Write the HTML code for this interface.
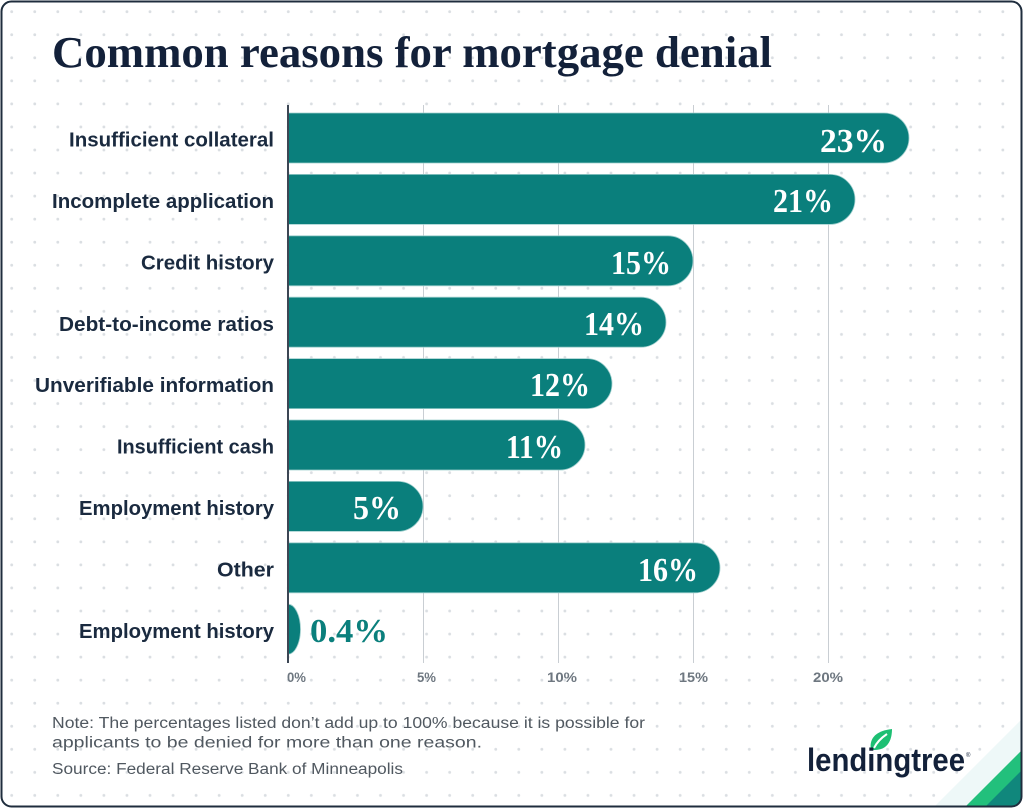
<!DOCTYPE html>
<html><head><meta charset="utf-8"><style>
html,body{margin:0;padding:0;background:#fff;}
svg{display:block;}
</style></head><body>
<svg width="1024" height="809" viewBox="0 0 1024 809" xmlns="http://www.w3.org/2000/svg">
<defs>
<pattern id="dots" x="0.2" y="0.2" width="23.05" height="23.05" patternUnits="userSpaceOnUse">
<circle cx="11.5" cy="11.5" r="1.4" fill="#dadee2"/>
</pattern>
<clipPath id="card"><rect x="1.5" y="1.5" width="1020" height="805" rx="10" ry="10"/></clipPath>
</defs>
<rect width="1024" height="809" fill="#fff"/>
<g clip-path="url(#card)">
<rect width="1024" height="809" fill="url(#dots)"/>
<polygon points="1024,717 1024,809 932,809" fill="#eef8f8"/>
<polygon points="1024,748 1024,809 963,809" fill="#22c07c"/>
<polygon points="1024,768 1024,809 983,809" fill="#10877c"/>
</g>
<rect x="1.5" y="1.5" width="1020" height="805" rx="10" ry="10" fill="none" stroke="#1f2d3d" stroke-width="2"/>

<text x="52" y="67" font-family="Liberation Serif, serif" font-weight="700" font-size="44" fill="#13213a" textLength="720" lengthAdjust="spacingAndGlyphs">Common reasons for mortgage denial</text>

<g stroke="#c9ced3" stroke-width="1">
<line x1="423.5" y1="105" x2="423.5" y2="663"/>
<line x1="558.5" y1="105" x2="558.5" y2="663"/>
<line x1="693.5" y1="105" x2="693.5" y2="663"/>
<line x1="828.5" y1="105" x2="828.5" y2="663"/>
</g>

<g fill="#0a7f7c" stroke="#9fcfcd" stroke-width="0.8">
<path d="M288,113 H884 A25,25 0 0 1 884,163 H288 Z"/>
<path d="M288,174.4 H830 A25,25 0 0 1 830,224.4 H288 Z"/>
<path d="M288,235.8 H668 A25,25 0 0 1 668,285.8 H288 Z"/>
<path d="M288,297.2 H641 A25,25 0 0 1 641,347.2 H288 Z"/>
<path d="M288,358.6 H587 A25,25 0 0 1 587,408.6 H288 Z"/>
<path d="M288,420 H560 A25,25 0 0 1 560,470 H288 Z"/>
<path d="M288,481.4 H398 A25,25 0 0 1 398,531.4 H288 Z"/>
<path d="M288,542.8 H695 A25,25 0 0 1 695,592.8 H288 Z"/>
<path d="M288,604.2 A12.5,25 0 0 1 288,654.2 Z"/>
</g>

<line x1="288" y1="105" x2="288" y2="663" stroke="#3c4654" stroke-width="2"/>

<g font-family="Liberation Serif, serif" font-weight="700" font-size="34" fill="#ffffff" text-anchor="end">
<text x="887" y="152" textLength="67" lengthAdjust="spacingAndGlyphs">23%</text>
<text x="833" y="212" textLength="60" lengthAdjust="spacingAndGlyphs">21%</text>
<text x="671" y="274" textLength="60" lengthAdjust="spacingAndGlyphs">15%</text>
<text x="644" y="335" textLength="60" lengthAdjust="spacingAndGlyphs">14%</text>
<text x="590" y="396" textLength="60" lengthAdjust="spacingAndGlyphs">12%</text>
<text x="563" y="458" textLength="57" lengthAdjust="spacingAndGlyphs">11%</text>
<text x="401" y="519" textLength="48" lengthAdjust="spacingAndGlyphs">5%</text>
<text x="698" y="581" textLength="60" lengthAdjust="spacingAndGlyphs">16%</text>
</g>
<text x="310" y="642" font-family="Liberation Serif, serif" font-weight="700" font-size="34" fill="#0a7f7c" textLength="78" lengthAdjust="spacingAndGlyphs">0.4%</text>

<g font-family="Liberation Sans, sans-serif" font-weight="700" font-size="20" fill="#1a2a3f" text-anchor="end">
<text x="274" y="146.5" textLength="205" lengthAdjust="spacingAndGlyphs">Insufficient collateral</text>
<text x="274" y="208" textLength="222" lengthAdjust="spacingAndGlyphs">Incomplete application</text>
<text x="274" y="269.4" textLength="133" lengthAdjust="spacingAndGlyphs">Credit history</text>
<text x="274" y="330.8" textLength="215" lengthAdjust="spacingAndGlyphs">Debt-to-income ratios</text>
<text x="274" y="392.2" textLength="239" lengthAdjust="spacingAndGlyphs">Unverifiable information</text>
<text x="274" y="453.6" textLength="157" lengthAdjust="spacingAndGlyphs">Insufficient cash</text>
<text x="274" y="515" textLength="195" lengthAdjust="spacingAndGlyphs">Employment history</text>
<text x="274" y="576.4" textLength="57" lengthAdjust="spacingAndGlyphs">Other</text>
<text x="274" y="637.8" textLength="195" lengthAdjust="spacingAndGlyphs">Employment history</text>
</g>

<g font-family="Liberation Sans, sans-serif" font-weight="700" font-size="14" fill="#6e7780">
<text x="287" y="682" textLength="19" lengthAdjust="spacingAndGlyphs">0%</text>
<text x="417" y="682" textLength="19" lengthAdjust="spacingAndGlyphs">5%</text>
<text x="547" y="682" textLength="30" lengthAdjust="spacingAndGlyphs">10%</text>
<text x="679" y="682" textLength="29" lengthAdjust="spacingAndGlyphs">15%</text>
<text x="813" y="682" textLength="30" lengthAdjust="spacingAndGlyphs">20%</text>
</g>

<g font-family="Liberation Sans, sans-serif" font-size="15.5" fill="#505860">
<text x="52" y="728" textLength="593" lengthAdjust="spacingAndGlyphs">Note: The percentages listed don’t add up to 100% because it is possible for</text>
<text x="52" y="747.5" textLength="430" lengthAdjust="spacingAndGlyphs">applicants to be denied for more than one reason.</text>
<text x="52" y="774" textLength="351" lengthAdjust="spacingAndGlyphs">Source: Federal Reserve Bank of Minneapolis</text>
</g>

<!-- logo -->
<path d="M871,750 C869,740 874,731 892,729 C892,741 887,750 875,750 Z" fill="#1dbf73"/>
<path d="M874,748 C877,742 881,738 887,734" stroke="#fff" stroke-width="2" fill="none"/>
<text x="807" y="771" font-family="Liberation Sans, sans-serif" font-weight="700" font-size="32" fill="#13213a" textLength="158" lengthAdjust="spacingAndGlyphs">lendingtree</text>
<text x="966" y="757" font-family="Liberation Sans, sans-serif" font-size="6" fill="#13213a">®</text>
</svg>
</body></html>
